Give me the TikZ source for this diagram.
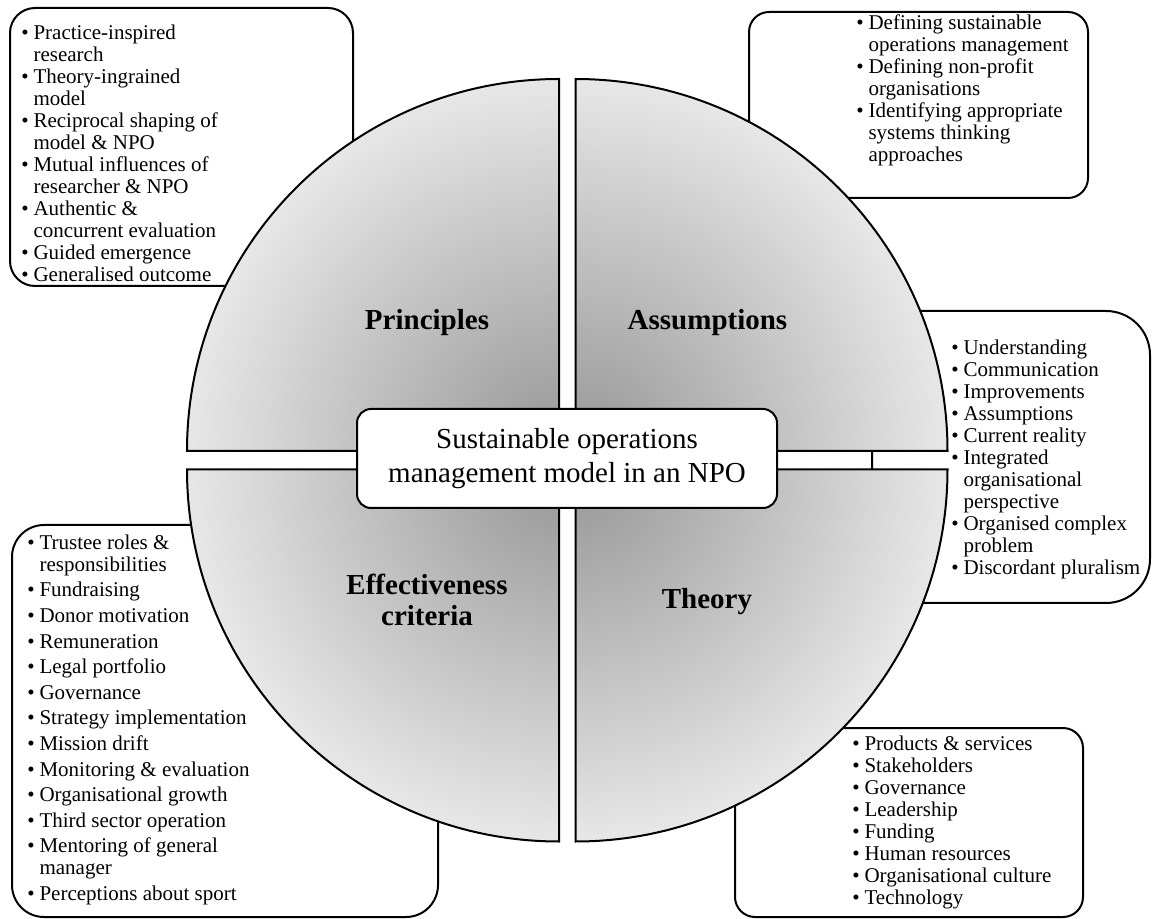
\documentclass[tikz,border=0pt]{standalone}
\usepackage{fontspec}
\setmainfont{Liberation Serif}
\usetikzlibrary{calc}

\definecolor{qdark}{RGB}{150,150,150}
\definecolor{qlight}{RGB}{231,231,231}
\pgfdeclareradialshading{quadfill}{\pgfpoint{0bp}{0bp}}{%
  color(0bp)=(qdark); color(25bp)=(qlight); color(50bp)=(qlight)}

\newcommand{\bl}{\textbullet}

% one quarter of the disc: corner, start angle, end angle
\newcommand{\quadpiece}[3]{%
  \begin{scope}
    \clip (#1) -- ++(#2:186pt) arc[start angle=#2, end angle=#3, radius=186pt] -- cycle;
    \shade[shading=quadfill] (#1) circle[radius=186pt];
  \end{scope}
  \draw[piece] (#1) -- ++(#2:186pt) arc[start angle=#2, end angle=#3, radius=186pt] -- cycle;
}

\tikzset{
  listbox/.style={draw, line width=1pt, fill=white, rounded corners=#1, inner sep=0pt},
  listbox/.default=12pt,
  listtext/.style={anchor=north west, inner sep=0pt, font=\fontsize{10.5}{11}\selectfont},
  piece/.style={draw=black, line width=1pt},
  hub/.style={draw, line width=1pt, fill=white, rounded corners=7pt, inner sep=0pt,
    minimum width=210pt, minimum height=49.5pt, align=center,
    font=\fontsize{14.5}{17}\selectfont},
  qlabel/.style={inner sep=0pt, align=center, font=\bfseries\fontsize{14.5}{15.5}\selectfont}
}

\begin{document}
\begin{tikzpicture}[x=0.5pt, y=-0.5pt]
\useasboundingbox (0,0) rectangle (1152,919);
\fill[white] (0,0) rectangle (1152,919);

% outer list boxes (behind the disc)
\node[listbox=12.5pt, minimum width=171.5pt, minimum height=139pt] (boxP) at (181.5,147) {};
\node[listbox=10pt, minimum width=169.5pt, minimum height=93pt] (boxA) at (918.5,105) {};
\node[listbox=22pt, minimum width=139pt, minimum height=146pt] (boxR) at (1011,457) {};
\node[listbox=16pt, minimum width=213pt, minimum height=196pt] (boxE) at (225,721) {};
\node[listbox=10pt, minimum width=174pt, minimum height=94.5pt] (boxT) at (909,822.5) {};

\node[listtext] (tP) at (21,23.5) {\begin{tabular}{@{}l@{\hspace{2.4pt}}l@{}}
\bl & Practice-inspired\\
    & research\\
\bl & Theory-ingrained\\
    & model\\
\bl & Reciprocal shaping of\\
    & model \& NPO\\
\bl & Mutual influences of\\
    & researcher \& NPO\\
\bl & Authentic \&\\
    & concurrent evaluation\\
\bl & Guided emergence\\
\bl & Generalised outcome
\end{tabular}};

\node[listtext] (tA) at (856,13.5) {\begin{tabular}{@{}l@{\hspace{2.4pt}}l@{}}
\bl & Defining sustainable\\
    & operations management\\
\bl & Defining non-profit\\
    & organisations\\
\bl & Identifying appropriate\\
    & systems thinking\\
    & approaches
\end{tabular}};

\node[listtext] (tR) at (951,338.5) {\begin{tabular}{@{}l@{\hspace{2.4pt}}l@{}}
\bl & Understanding\\
\bl & Communication\\
\bl & Improvements\\
\bl & Assumptions\\
\bl & Current reality\\
\bl & Integrated\\
    & organisational\\
    & perspective\\
\bl & Organised complex\\
    & problem\\
\bl & Discordant pluralism
\end{tabular}};

\node[listtext] (tE) at (27,533.5) {\begin{tabular}{@{}l@{\hspace{2.4pt}}l@{}}
\bl & Trustee roles \&\\
    & responsibilities\\[1.8pt]
\bl & Fundraising\\[1.8pt]
\bl & Donor motivation\\[1.8pt]
\bl & Remuneration\\[1.8pt]
\bl & Legal portfolio\\[1.8pt]
\bl & Governance\\[1.8pt]
\bl & Strategy implementation\\[1.8pt]
\bl & Mission drift\\[1.8pt]
\bl & Monitoring \& evaluation\\[1.8pt]
\bl & Organisational growth\\[1.8pt]
\bl & Third sector operation\\[1.8pt]
\bl & Mentoring of general\\
    & manager\\[1.8pt]
\bl & Perceptions about sport
\end{tabular}};

\node[listtext] (tT) at (852,734.5) {\begin{tabular}{@{}l@{\hspace{2.4pt}}l@{}}
\bl & Products \& services\\
\bl & Stakeholders\\
\bl & Governance\\
\bl & Leadership\\
\bl & Funding\\
\bl & Human resources\\
\bl & Organisational culture\\
\bl & Technology
\end{tabular}};

% the four quarters of the disc
\coordinate (cTL) at (559,451);
\coordinate (cTR) at (575.5,451);
\coordinate (cBL) at (559,469.5);
\coordinate (cBR) at (575.5,469.5);
\quadpiece{cTL}{90}{180}
\quadpiece{cTR}{0}{90}
\quadpiece{cBL}{180}{270}
\quadpiece{cBR}{270}{360}

\node[qlabel, anchor=base] (lP) at (427,330) {Principles};
\node[qlabel, anchor=base] (lA) at (707.5,330) {Assumptions};
\node[qlabel, anchor=north] (lE) at (427,573.5) {Effectiveness\\criteria};
\node[qlabel, anchor=base] (lT) at (707,608.5) {Theory};

% centre hub
\node[hub] (hub) at (567,458.5) {Sustainable operations\\management model in an NPO};
\end{tikzpicture}
\end{document}
